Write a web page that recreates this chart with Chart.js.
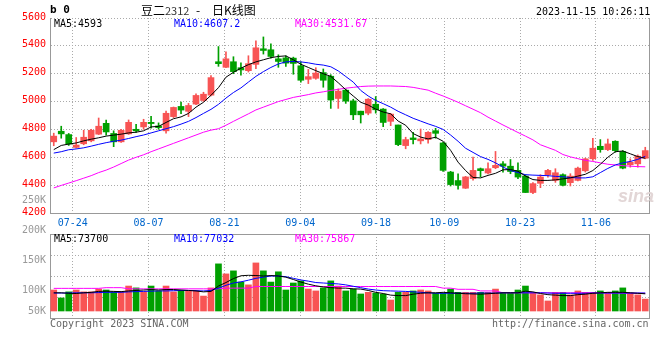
<!DOCTYPE html>
<html>
<head>
<meta charset="utf-8">
<script src="https://cdn.jsdelivr.net/npm/chart.js@4.4.0/dist/chart.umd.min.js"></script>
<style>
  body { margin: 0; background: #fff; }
  #stage { position: relative; width: 660px; height: 360px; overflow: hidden; background: #fff; }
  canvas { position: absolute; left: 0; }
  #price { top: 0; }
  #vol { top: 190px; }
  .t { position: absolute; font-family: "DejaVu Sans Mono", "Liberation Mono", monospace; font-size: 10px; line-height: 12px; white-space: pre; z-index: 5; }
  .cjk { font-family: "Noto Sans CJK SC", sans-serif; font-size: 12px; line-height: 14px; top: 3px; }
</style>
</head>
<body>
<div id="stage">
  <canvas id="price" width="660" height="232"></canvas>
  <canvas id="vol" width="660" height="140"></canvas>

  <div class="t" style="left:50px;top:4px;font-weight:bold;font-size:11px;">b 0</div>
  <div class="t cjk" style="left:141px;">豆二<span style="font-size:11px;color:#333">2312</span></div>
  <div class="t cjk" style="left:196px;">-</div>
  <div class="t cjk" style="left:212px;">日K线图</div>
  <div class="t" style="left:536px;top:6px;">2023-11-15 10:26:11</div>

  <div class="t" style="left:54px;top:18px;color:#000;">MA5:4593</div>
  <div class="t" style="left:174px;top:18px;color:#0000ff;">MA10:4607.2</div>
  <div class="t" style="left:295px;top:18px;color:#ff00ff;">MA30:4531.67</div>

  <div class="t" style="left:54px;top:233px;color:#000;">MA5:73700</div>
  <div class="t" style="left:174px;top:233px;color:#0000ff;">MA10:77032</div>
  <div class="t" style="left:295px;top:233px;color:#ff00ff;">MA30:75867</div>

  <div class="t" style="left:50px;top:318px;color:#666;">Copyright 2023 SINA.COM</div>
  <div class="t" style="left:492px;top:318px;color:#666;">http://finance.sina.com.cn</div>
  <div class="t" style="left:618px;top:186px;font-family:'Liberation Sans',sans-serif;font-style:italic;font-weight:bold;font-size:18px;line-height:20px;color:#e2d6d6;z-index:1;">sina</div>
</div>

<script>
// trading days shown, one candle each
const dates = [
  '07-19','07-20','07-21','07-24','07-25','07-26','07-27','07-28','07-31','08-01',
  '08-02','08-03','08-04','08-07','08-08','08-09','08-10','08-11','08-14','08-15',
  '08-16','08-17','08-18','08-21','08-22','08-23','08-24','08-25','08-28','08-29',
  '08-30','08-31','09-01','09-04','09-05','09-06','09-07','09-08','09-11','09-12',
  '09-13','09-14','09-15','09-18','09-19','09-20','09-21','09-22','09-25','09-26',
  '09-27','09-28','10-09','10-10','10-11','10-12','10-13','10-16','10-17','10-18',
  '10-19','10-20','10-23','10-24','10-25','10-26','10-27','10-30','10-31','11-01',
  '11-02','11-03','11-06','11-07','11-08','11-09','11-10','11-13','11-14','11-15'
];
const tickDates = ['07-24','08-07','08-21','09-04','09-18','10-09','10-23','11-06'];

const open = [
  4711,4787,4763,4671,4697,4718,4766,4844,4771,4711,
  4768,4801,4818,4851,4825,4790,4892,4965,4930,4982,
  5008,5046,5286,5246,5286,5243,5222,5267,5379,5372,
  5307,5314,5312,5257,5160,5167,5208,5182,5022,5082,
  5005,4931,4917,4981,4946,4858,4832,4684,4739,4718,
  4727,4791,4703,4494,4433,4378,4447,4518,4487,4525,
  4553,4536,4506,4465,4347,4413,4475,4434,4475,4418,
  4434,4503,4589,4679,4655,4715,4641,4546,4553,4593
];
const high = [
  4773,4823,4771,4742,4794,4801,4882,4868,4790,4801,
  4868,4837,4873,4894,4847,4932,4961,4996,4987,5056,
  5067,5186,5395,5357,5322,5279,5329,5436,5464,5414,
  5336,5329,5319,5286,5231,5243,5234,5193,5091,5091,
  5017,4931,5021,5036,4950,4915,4832,4744,4779,4803,
  4784,4808,4708,4499,4482,4463,4601,4523,4561,4642,
  4570,4584,4560,4475,4418,4475,4513,4518,4482,4482,
  4529,4594,4736,4727,4731,4719,4648,4589,4617,4672
];
const low = [
  4683,4737,4685,4666,4690,4711,4763,4759,4676,4706,
  4764,4778,4801,4809,4801,4773,4885,4913,4892,4977,
  5001,5041,5253,5243,5200,5189,5212,5236,5341,5312,
  5246,5253,5196,5139,5129,5160,5103,4951,4951,4987,
  4870,4846,4905,4917,4820,4827,4684,4661,4696,4696,
  4701,4737,4499,4394,4371,4376,4435,4459,4480,4518,
  4494,4482,4446,4347,4339,4382,4458,4420,4394,4394,
  4430,4494,4577,4636,4648,4636,4517,4529,4529,4589
];
const close = [
  4752,4768,4695,4688,4744,4794,4823,4782,4711,4794,
  4851,4790,4851,4842,4813,4916,4958,4939,4972,5044,
  5053,5172,5272,5307,5215,5227,5272,5386,5367,5324,
  5288,5276,5274,5153,5179,5205,5153,5011,5075,5003,
  4905,4905,5017,4941,4850,4910,4691,4727,4727,4732,
  4779,4772,4506,4404,4399,4459,4506,4504,4518,4542,
  4536,4498,4458,4347,4411,4458,4506,4489,4399,4465,
  4522,4589,4665,4655,4696,4648,4522,4565,4608,4648
];

const ma5 = [
  4655,4685,4695,4703,4718,4730,4740,4752,4759,4766,
  4775,4780,4790,4818,4822,4850,4877,4890,4915,4960,
  4995,5045,5100,5175,5210,5240,5265,5285,5300,5315,
  5324,5328,5300,5268,5245,5222,5200,5181,5135,5085,
  5040,4995,4975,4946,4925,4912,4860,4830,4770,4745,
  4732,4744,4715,4650,4565,4505,4455,4452,4470,4485,
  4510,4512,4500,4465,4440,4434,4434,4438,4445,4452,
  4465,4478,4505,4550,4600,4640,4645,4625,4605,4593
];
const ma10 = [
  4630,4640,4654,4660,4668,4680,4693,4705,4715,4723,
  4735,4748,4760,4775,4790,4805,4820,4838,4858,4885,
  4915,4944,4980,5025,5065,5098,5140,5181,5215,5245,
  5270,5285,5288,5285,5278,5268,5262,5250,5220,5180,
  5140,5080,5040,5008,4985,4960,4930,4905,4880,4860,
  4840,4822,4800,4760,4715,4665,4635,4605,4585,4560,
  4530,4505,4490,4475,4472,4470,4468,4463,4460,4455,
  4452,4452,4460,4490,4520,4545,4560,4570,4585,4607.2
];
const ma30 = [
  4380,4398,4415,4432,4450,4468,4490,4508,4530,4555,
  4580,4600,4618,4640,4660,4680,4700,4720,4740,4760,
  4780,4795,4805,4830,4858,4885,4912,4940,4960,4980,
  5000,5015,5030,5040,5050,5062,5070,5080,5088,5096,
  5102,5108,5111,5112,5112,5112,5110,5108,5102,5092,
  5082,5060,5040,5018,4995,4970,4945,4920,4888,4860,
  4832,4805,4778,4752,4725,4690,4670,4650,4620,4603,
  4590,4578,4570,4560,4550,4545,4540,4536,4533,4531.67
];

const volume = [
  90000,56000,82000,90000,82000,82000,94000,90000,82000,82000,
  107000,99000,82000,107000,86000,107000,82000,86000,86000,86000,
  64000,99000,202000,159000,172000,124000,112000,206000,172000,124000,
  168000,90000,120000,129000,94000,86000,99000,129000,107000,86000,
  94000,73000,80000,77000,72000,47000,80000,80000,86000,90000,
  86000,76000,76000,94000,80000,80000,80000,80000,80000,94000,
  77000,77000,90000,107000,77000,69000,43000,80000,80000,69000,
  86000,80000,80000,86000,80000,86000,99000,77000,69000,51000
];
const volMa5 = [
  78000,78000,76000,75000,78000,80000,84000,85000,84000,83000,
  86000,88000,90000,92000,90000,92000,92000,90000,88000,86000,
  82000,84000,107000,122000,139000,151000,153000,152000,150000,152000,
  150000,145000,135000,124000,115000,108000,103000,100000,98000,98000,
  95000,94000,88000,80000,75000,68000,66000,66000,72000,76000,
  78000,78000,80000,78000,76000,74000,73000,72000,74000,76000,
  78000,78000,78000,85000,82000,75000,70000,68000,66000,66000,
  70000,72000,76000,78000,80000,80000,80000,78000,76000,73700
];
const volMa10 = [
  77000,77000,77000,78000,78000,78000,79000,80000,80000,80000,
  82000,83000,84000,85000,86000,86000,87000,88000,88000,87000,
  86000,88000,98000,110000,120000,125000,132000,140000,145000,150000,
  150000,147000,140000,133000,128000,122000,120000,118000,116000,112000,
  106000,100000,94000,90000,87000,86000,85000,84000,82000,80000,
  78000,76000,76000,76000,76000,76000,76000,77000,77000,77000,
  78000,78000,78000,78000,78000,78000,77000,76000,76000,76000,
  76000,76000,77000,77000,77000,77000,77000,77000,77000,77032
];
const volMa30 = [
  97000,97000,97000,97000,97000,97000,97000,100000,100000,100000,
  95000,95000,95000,95000,95000,95000,95000,95000,95000,95000,
  95000,95000,95000,98000,98000,98000,98000,105000,105000,105000,
  105000,105000,105000,105000,105000,105000,105000,105000,105000,105000,
  105000,105000,105000,105000,105000,105000,105000,105000,105000,105000,
  105000,105000,98000,98000,93000,93000,93000,86000,86000,86000,
  78000,78000,78000,78000,78000,78000,78000,78000,78000,78000,
  78000,78000,78000,78000,77000,77000,76000,76000,76000,75867
];

// volume axis captions as printed on the original
const volTickLabels = ['250K', '200K', '150K', '100K', '50K'];
const volTickValues = [250000, 200000, 150000, 100000, 50000];

const N = dates.length;
const tickIdx = tickDates.map(d => dates.indexOf(d));
const RED = '#f85454', GREEN = '#00a000';
const colors = close.map((c, i) => c >= open[i] ? RED : GREEN);
const GRID = '#aaaaaa', FRAME = '#999999';
const MONO = '"DejaVu Sans Mono", "Liberation Mono", monospace';

const pts = arr => arr.map((v, i) => ({ x: i, y: v }));

function maLine(arr, color) {
  return { type: 'line', data: pts(arr), borderColor: color, borderWidth: 1,
           pointRadius: 0, tension: 0, xAxisID: 'x', yAxisID: 'y' };
}

function candleAxis() {
  return { type: 'linear', display: false, offset: false, min: -0.5, max: N - 0.5 };
}

function dateAxis(showLabels, h) {
  return {
    type: 'linear', position: 'bottom', offset: false, min: 0, max: N - 1,
    afterBuildTicks: s => { s.ticks = tickIdx.map(v => ({ value: v })); },
    afterFit: s => { s.height = h; },
    grid: { color: GRID, drawTicks: false, offset: false },
    border: { color: FRAME, dash: [1, 2] },
    ticks: { display: showLabels, padding: 4, color: '#0066cc', autoSkip: false, maxRotation: 0,
             font: { family: MONO, size: 10 }, callback: v => dates[v] }
  };
}

function rightEdge(min, max) {
  return { type: 'linear', position: 'right', min: min, max: max,
           ticks: { display: false }, grid: { display: false },
           border: { color: FRAME }, afterFit: s => { s.width = 11; } };
}

const common = {
  responsive: false, animation: false, events: [],
  plugins: { legend: { display: false }, tooltip: { enabled: false } }
};

// price panel
new Chart(document.getElementById('price'), {
  type: 'bar',
  data: {
    datasets: [
      maLine(ma5, '#000000'),
      maLine(ma10, '#0000ff'),
      maLine(ma30, '#ff00ff'),
      { type: 'bar', data: open.map((o, i) => ({ x: i, y: [o, close[i]] })),
        backgroundColor: colors, barThickness: 6, minBarLength: 1, grouped: false,
        xAxisID: 'x', yAxisID: 'y' },
      { type: 'bar', data: low.map((l, i) => ({ x: i, y: [l, high[i]] })),
        backgroundColor: colors, barThickness: 1, grouped: false,
        xAxisID: 'x', yAxisID: 'y' }
    ]
  },
  options: {
    ...common,
    layout: { padding: { top: 18, left: 0, right: 0, bottom: 0 } },
    scales: {
      x: candleAxis(),
      xg: dateAxis(true, 19),
      y: { type: 'linear', position: 'left', min: 4200, max: 5600,
           ticks: { stepSize: 200, color: '#ff0000', padding: 4, labelOffset: -1,
                    font: { family: MONO, size: 10 }, callback: v => String(v) },
           grid: { color: GRID, drawTicks: false },
           border: { color: FRAME, dash: [1, 2] },
           afterFit: s => { s.width = 50; } },
      yR: rightEdge(4200, 5600)
    }
  }
});

// volume captions, placed through their own hidden scale
const volLabels = {
  id: 'volLabels',
  afterDraw(chart) {
    const s = chart.scales.yLab, area = chart.chartArea, ctx = chart.ctx;
    ctx.save();
    ctx.font = '10px ' + MONO;
    ctx.fillStyle = '#999999';
    ctx.textAlign = 'right';
    ctx.textBaseline = 'middle';
    volTickValues.forEach((v, k) => {
      const y = Math.min(s.getPixelForValue(v), area.bottom - 7);
      ctx.fillText(volTickLabels[k], area.left - 4, y);
    });
    ctx.restore();
  }
};

// volume panel
new Chart(document.getElementById('vol'), {
  type: 'bar',
  data: {
    datasets: [
      maLine(volMa5, '#000000'),
      maLine(volMa10, '#0000ff'),
      maLine(volMa30, '#ff00ff'),
      { type: 'bar', data: pts(volume), backgroundColor: colors, barThickness: 6, grouped: false,
        xAxisID: 'x', yAxisID: 'y' }
    ]
  },
  options: {
    ...common,
    layout: { padding: { top: 44, left: 0, right: 0, bottom: 0 } },
    scales: {
      x: candleAxis(),
      xg: dateAxis(false, 12),
      xt: { type: 'linear', position: 'top', min: 0, max: 1,
            ticks: { display: false }, grid: { display: false },
            border: { color: FRAME }, afterFit: s => { s.height = 0; } },
      y: { type: 'linear', position: 'left', min: -30000, max: 330000,
           afterBuildTicks: s => { s.ticks = [60000, 150000, 240000].map(v => ({ value: v })); },
           ticks: { display: false },
           grid: { color: GRID, drawTicks: false },
           border: { color: FRAME, dash: [1, 2] },
           afterFit: s => { s.width = 50; } },
      yR: rightEdge(-30000, 330000),
      yLab: { type: 'linear', display: false, position: 'left', min: 54500, max: 194500 }
    }
  },
  plugins: [volLabels]
});
</script>
</body>
</html>
